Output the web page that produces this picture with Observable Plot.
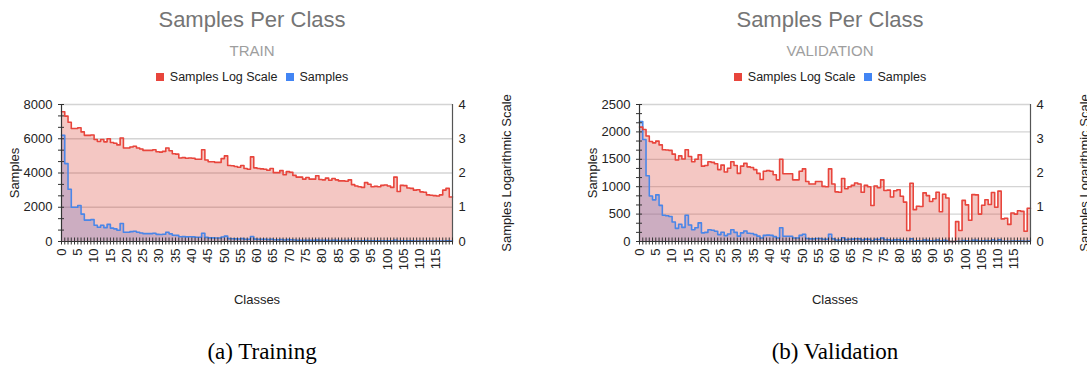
<!DOCTYPE html>
<html>
<head>
<meta charset="utf-8">
<script src="https://cdn.jsdelivr.net/npm/d3@7"></script>
<script src="https://cdn.jsdelivr.net/npm/@observablehq/plot@0.6"></script>
<style>
  html, body { margin: 0; padding: 0; background: #fff; }
  body { width: 1087px; height: 374px; overflow: hidden; position: relative; font-family: "Liberation Sans", Arial, sans-serif; }
  .panel { position: absolute; top: 0; width: 543px; height: 374px; }
  .title { position: absolute; left: 0; width: 504px; text-align: center; top: 9px; font-size: 22px; line-height: 22px; color: #757575; }
  .subtitle { position: absolute; left: 0; width: 504px; text-align: center; top: 43px; font-size: 15px; line-height: 15px; color: #9e9e9e; }
  .legend { position: absolute; left: 0; width: 504px; text-align: center; top: 71px; font-size: 12.5px; line-height: 12.5px; color: #222; white-space: nowrap; }
  .sw { display: inline-block; width: 8px; height: 8px; margin-right: 6px; }
  .gap { display: inline-block; width: 8px; }
  .caption { position: absolute; width: 300px; text-align: center; top: 340px; font-family: "Liberation Serif", "Times New Roman", serif; font-size: 23px; line-height: 23px; color: #000; }
</style>
</head>
<body>
<div class="panel" id="p1" style="left:0px"></div>
<div class="panel" id="p2" style="left:578px"></div>
<div class="caption" style="left:112px">(a) Training</div>
<div class="caption" style="left:685px">(b) Validation</div>
<script>
// ---- data ----
const classes = d3.range(120);
const xTickLabels = [0,5,10,15,20,25,30,35,40,45,50,55,60,65,70,75,80,85,90,95,100,105,110,115];
const logTickLabels = [0, 1, 2, 3, 4];
const trainTicks = [0, 2000, 4000, 6000, 8000];
const valTicks = [0, 500, 1000, 1500, 2000, 2500];

const trainSamples = [6200,4550,3050,2000,2000,2100,1600,1250,1250,1280,
  950,830,950,810,1000,780,740,660,1050,540,
  540,575,600,540,500,457,457,457,479,417,
  407,427,537,447,363,355,275,282,269,275,
  269,251,251,479,240,214,214,204,204,263,
  316,166,162,155,148,166,135,129,295,141,
  135,132,129,120,135,102,102,117,89,110,
  105,85,76,76,66,74,66,66,83,65,
  63,71,62,69,63,59,59,58,63,46,
  42,40,38,52,47,40,41,40,44,45,
  42,38,76,29,44,43,36,35,32,32,
  28,28,23,22,22,21,23,32,35,20];
const trainLog = [3.79,3.66,3.48,3.30,3.30,3.32,3.20,3.10,3.10,3.11,
  2.98,2.92,2.98,2.91,3.00,2.89,2.87,2.82,3.02,2.73,
  2.73,2.76,2.78,2.73,2.70,2.66,2.66,2.66,2.68,2.62,
  2.61,2.63,2.73,2.65,2.56,2.55,2.44,2.45,2.43,2.44,
  2.43,2.40,2.40,2.68,2.38,2.33,2.33,2.31,2.31,2.42,
  2.50,2.22,2.21,2.19,2.17,2.22,2.13,2.11,2.47,2.15,
  2.13,2.12,2.11,2.08,2.13,2.01,2.01,2.07,1.95,2.04,
  2.02,1.93,1.88,1.88,1.82,1.87,1.82,1.82,1.92,1.81,
  1.80,1.85,1.79,1.84,1.80,1.77,1.77,1.76,1.80,1.66,
  1.62,1.60,1.58,1.72,1.67,1.60,1.61,1.60,1.64,1.65,
  1.62,1.58,1.88,1.46,1.64,1.63,1.56,1.55,1.50,1.51,
  1.45,1.44,1.36,1.35,1.34,1.33,1.36,1.50,1.55,1.30];

const valSamples = [2190,1860,1200,830,760,850,660,480,470,457,
  355,240,316,257,479,302,214,251,339,158,
  166,214,204,186,126,170,107,138,214,166,
  98,158,191,151,145,126,98,65,112,117,
  112,89,63,251,95,95,95,63,63,112,
  132,56,48,48,56,56,41,40,132,48,
  28,28,69,35,40,44,51,48,28,44,
  40,11,42,37,63,31,32,20,30,32,
  21,14,2,50,9,11,10,26,22,15,
  18,28,7,24,19,1,1,4,2,16,
  12,4,23,23,6,11,17,12,27,10,
  30,5,5,3,7,6,8,8,2,9];
const valLog = [3.34,3.27,3.08,2.92,2.88,2.93,2.82,2.68,2.67,2.66,
  2.55,2.38,2.50,2.41,2.68,2.48,2.33,2.40,2.53,2.20,
  2.22,2.33,2.31,2.27,2.10,2.23,2.03,2.14,2.33,2.22,
  1.99,2.20,2.28,2.18,2.16,2.10,1.99,1.81,2.05,2.07,
  2.05,1.95,1.80,2.40,1.98,1.98,1.98,1.80,1.80,2.05,
  2.12,1.75,1.68,1.68,1.75,1.75,1.61,1.60,2.12,1.68,
  1.45,1.44,1.84,1.54,1.60,1.64,1.71,1.68,1.44,1.64,
  1.60,1.05,1.62,1.57,1.80,1.49,1.50,1.30,1.48,1.51,
  1.32,1.15,0.32,1.70,0.93,1.03,1.02,1.42,1.34,1.17,
  1.25,1.44,0.87,1.38,1.27,0,0,0.58,0.32,1.20,
  1.07,0.62,1.37,1.36,0.80,1.06,1.22,1.08,1.43,1.00,
  1.47,0.66,0.68,0.50,0.83,0.80,0.90,0.88,0.30,0.97];

const RED = "#DB4437", REDLINE = "#E8453C", BLUE = "#4285F4", BLUELINE = "#4A86E8";

function header(el, subtitle) {
  el.innerHTML = `
    <div class="title">Samples Per Class</div>
    <div class="subtitle">${subtitle}</div>
    <div class="legend"><span class="sw" style="background:${REDLINE}"></span>Samples Log Scale<span class="gap"></span><span class="sw" style="background:${BLUE}"></span>Samples</div>`;
}

function chart(samples, logs, leftTicks) {
  const yMax = leftTicks[leftTicks.length - 1];
  const factor = yMax / logTickLabels[logTickLabels.length - 1];
  const rows = classes.map((c, i) => ({x: c, s: samples[i], l: logs[i] * factor}));
  const last = rows[rows.length - 1];
  rows.push({x: last.x + 1, s: last.s, l: last.l});
  const step = leftTicks[1] - leftTicks[0];
  const minor = d3.range(0, (leftTicks.length - 1) * 3 + 1).map(i => i * step / 3);
  return Plot.plot({
    width: 543, height: 230,
    marginLeft: 61, marginRight: 91, marginTop: 14, marginBottom: 79,
    style: {fontFamily: "Liberation Sans, Arial, sans-serif", fontSize: "13px", color: "#222", background: "transparent", overflow: "visible"},
    x: {domain: [0, 120]},
    y: {domain: [0, yMax]},
    marks: [
      Plot.gridY(leftTicks.filter(d => d > 0), {stroke: "#d4d4d4", strokeOpacity: 1, strokeWidth: 1.3}),
      Plot.areaY(rows, {x: "x", y: "s", curve: "step-after", fill: BLUE, fillOpacity: 0.3}),
      Plot.areaY(rows, {x: "x", y: "l", curve: "step-after", fill: RED, fillOpacity: 0.3}),
      Plot.lineY(rows, {x: "x", y: "s", curve: "step-after", stroke: BLUELINE, strokeWidth: 1.6}),
      Plot.lineY(rows, {x: "x", y: "l", curve: "step-after", stroke: REDLINE, strokeWidth: 1.6}),
      Plot.ruleX([0], {stroke: "#333", strokeWidth: 1.2}),
      Plot.ruleX([120], {stroke: "#555", strokeWidth: 1.2}),
      Plot.ruleY([0], {stroke: "#333", strokeWidth: 1.2}),
      Plot.axisY(minor, {tickSize: 6, dx: 3, tickFormat: () => "", label: null, stroke: "#333"}),
      Plot.axisY(leftTicks, {tickSize: 0, tickPadding: 9, fill: "#222", tickFormat: d => String(d), label: "Samples", labelArrow: "none", labelAnchor: "center", labelOffset: 52}),
      Plot.axisY(logTickLabels.map(t => t * factor), {anchor: "right", tickSize: 0, tickPadding: 6, fill: "#222", tickFormat: d => String(Math.round(d / factor)), label: null}),
      Plot.axisY([], {anchor: "right", tickSize: 0, fill: "#222", dy: 10, label: "Samples Logarithmic Scale", labelArrow: "none", labelAnchor: "center", labelOffset: 58}),
      Plot.axisX(d3.range(0, 121), {tickSize: 7, dy: -3.5, tickFormat: () => "", label: null, stroke: "#333"}),
      Plot.axisX(xTickLabels, {tickSize: 0, tickRotate: -90, tickPadding: 7, fill: "#222", tickFormat: d => String(d), label: "Classes", labelArrow: "none", labelAnchor: "center", labelOffset: 62})
    ]
  });
}

const p1 = document.getElementById("p1");
header(p1, "TRAIN");
const c1 = chart(trainSamples, trainLog, trainTicks);
c1.style.position = "absolute"; c1.style.left = "0px"; c1.style.top = "90px";
p1.appendChild(c1);

const p2 = document.getElementById("p2");
header(p2, "VALIDATION");
const c2 = chart(valSamples, valLog, valTicks);
c2.style.position = "absolute"; c2.style.left = "0px"; c2.style.top = "90px";
p2.appendChild(c2);
</script>
</body>
</html>
